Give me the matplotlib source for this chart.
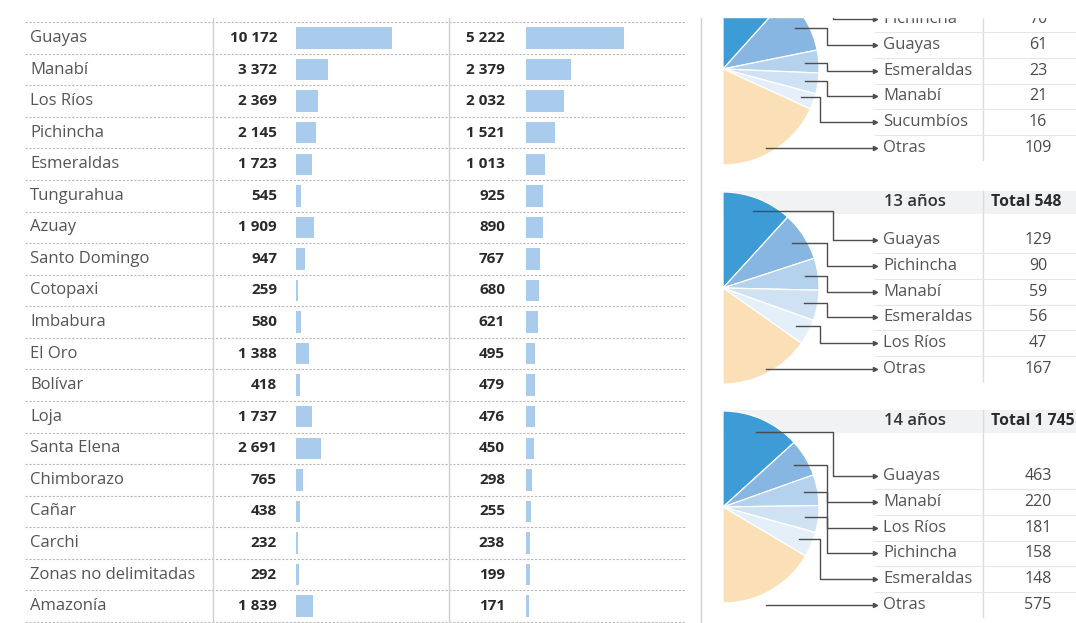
import numpy as np
import matplotlib.pyplot as plt
from matplotlib.patches import Rectangle

W, H = 1076, 623
plt.rcParams['font.family'] = ['Open Sans', 'DejaVu Sans']

provincias = ["Guayas", "Manabí", "Los Ríos", "Pichincha", "Esmeraldas", "Tungurahua",
              "Azuay", "Santo Domingo", "Cotopaxi", "Imbabura", "El Oro", "Bolívar",
              "Loja", "Santa Elena", "Chimborazo", "Cañar", "Carchi",
              "Zonas no delimitadas", "Amazonía"]
col1 = [10172, 3372, 2369, 2145, 1723, 545, 1909, 947, 259, 580, 1388, 418,
        1737, 2691, 765, 438, 232, 292, 1839]
col2 = [5222, 2379, 2032, 1521, 1013, 925, 890, 767, 680, 621, 495, 479,
        476, 450, 298, 255, 238, 199, 171]

pie12_labels = ["Pichincha", "Guayas", "Esmeraldas", "Manabí", "Sucumbíos", "Otras"]
pie12_values = [70, 61, 23, 21, 16, 109]
pie13_labels = ["Guayas", "Pichincha", "Manabí", "Esmeraldas", "Los Ríos", "Otras"]
pie13_values = [129, 90, 59, 56, 47, 167]
pie14_labels = ["Guayas", "Manabí", "Los Ríos", "Pichincha", "Esmeraldas", "Otras"]
pie14_values = [463, 220, 181, 158, 148, 575]

pie_colors = ['#3d9bd6', '#86b6e1', '#b4d2ee', '#cfe2f4', '#e5eff9', '#fbdfb6']
BAR_C = '#a9cbec'
NAME_C = '#555555'
VAL_C = '#2a2a2a'


def fmt(v):
    return f"{v:,}".replace(",", " ")


def px_axes(x0, y0, w, h, z):
    a = fig.add_axes([x0 / W, 1 - (y0 + h) / H, w / W, h / H], zorder=z)
    a.patch.set_visible(False)
    return a


fig = plt.figure(figsize=(W / 100, H / 100), dpi=100)
fig.patch.set_facecolor('white')

bg = px_axes(0, 0, W, H, 0)
bg.set_xlim(0, W); bg.set_ylim(H, 0); bg.axis('off')
top = px_axes(0, 0, W, H, 5)
top.set_xlim(0, W); top.set_ylim(H, 0); top.axis('off')

# ---- table on the left
n = len(provincias)
row0, dy = 38, 31.56
rows_y = row0 + np.arange(n) * dy

for i in range(n + 1):
    yy = row0 - dy / 2 + i * dy
    if yy < H:
        bg.plot([25, 686], [yy, yy], color='#b8b8b8', lw=0.8, ls=(0, (2, 1.5)))
for xx in [213, 449, 701]:
    bg.plot([xx, xx], [18, H], color='#cfcfcf', lw=1)

for i, (name, v1, v2) in enumerate(zip(provincias, col1, col2)):
    y = rows_y[i]
    top.text(30, y, name, ha='left', va='center', fontsize=12, color=NAME_C)
    top.text(277, y, fmt(v1), ha='right', va='center', fontsize=11,
             color=VAL_C, fontweight='bold')
    top.text(505, y, fmt(v2), ha='right', va='center', fontsize=11,
             color=VAL_C, fontweight='bold')

# bar axes, scaled so that 10172 -> 96 px and 5222 -> 98 px
for left, vals, scale in [(296, col1, 96 / 10172), (526, col2, 98 / 5222)]:
    bw = 150
    bax = px_axes(left, row0 - dy / 2, bw, n * dy, 2)
    bax.barh(np.arange(n), vals, height=0.68, color=BAR_C, edgecolor='none')
    bax.set_xlim(0, bw / scale)
    bax.set_ylim(n - 0.5, -0.5)
    bax.axis('off')

# ---- half pies on the right
CX, R = 723, 96
pies = [
    (None, None, 69, 19, pie12_labels, pie12_values),
    ("13 años", "Total 548", 288, 240, pie13_labels, pie13_values),
    ("14 años", "Total 1 745", 507, 476, pie14_labels, pie14_values),
]
elbows = [1.15, 1.08, 1.08, 1.08, 1.01, None]

for head, total, cy, ly0, labels, vals in pies:
    tot = sum(vals)
    ys = ly0 + np.arange(len(labels)) * 25.8
    if head is not None:
        hy = cy - 86
        bg.add_patch(Rectangle((722, hy - 11), W - 722, 23, color='#f0f2f4', lw=0))
        top.text(884, hy, head, ha='left', va='center', fontsize=12,
                 color='#333333', fontweight='semibold')
        top.text(991, hy, total, ha='left', va='center', fontsize=11.3,
                 color=VAL_C, fontweight='bold')
        vtop = hy - 11
    else:
        vtop = 18
    bg.plot([983, 983], [vtop, ys[-1] + 12], color='#dcdcdc', lw=1)
    for k in range(len(labels) - 1):
        yy = (ys[k] + ys[k + 1]) / 2
        bg.plot([875, W], [yy, yy], color='#e6e6e6', lw=0.8)

    pax = px_axes(CX - R, cy - R, 2 * R, 2 * R, 3)
    pax.pie([v / (2 * tot) for v in vals], radius=1, startangle=90,
            counterclock=False, normalize=False, colors=pie_colors,
            wedgeprops=dict(edgecolor='white', linewidth=0.9))
    pax.set_xlim(-1, 1); pax.set_ylim(-1, 1)
    pax.axis('off')

    cum = 0
    for k, (lab, v) in enumerate(zip(labels, vals)):
        frac = v / tot * np.pi
        mid = cum + frac / 2
        cum += frac
        ly = ys[k]
        if elbows[k] is None:
            xs_, ys_ = [CX + 0.45 * R, 873], [ly, ly]
        else:
            ax_ = CX + 0.86 * R * np.sin(mid)
            ay_ = cy - 0.86 * R * np.cos(mid)
            ex = CX + elbows[k] * R
            xs_, ys_ = [ax_, ex, ex, 873], [ay_, ay_, ly, ly]
        top.plot(xs_, ys_, color='#4d4d4d', lw=1)
        top.plot([875], [ly], marker='>', ms=3, color='#4d4d4d')
        top.text(883, ly, lab, ha='left', va='center', fontsize=12, color=NAME_C)
        top.text(1038, ly, fmt(v), ha='center', va='center', fontsize=11.5, color='#4a4a4a')

# image is cropped at the top
fig.patches.append(Rectangle((0, 1 - 17 / H), 1, 17 / H, transform=fig.transFigure,
                             color='white', zorder=20))

fig.savefig('out.png', dpi=100, facecolor='white')
